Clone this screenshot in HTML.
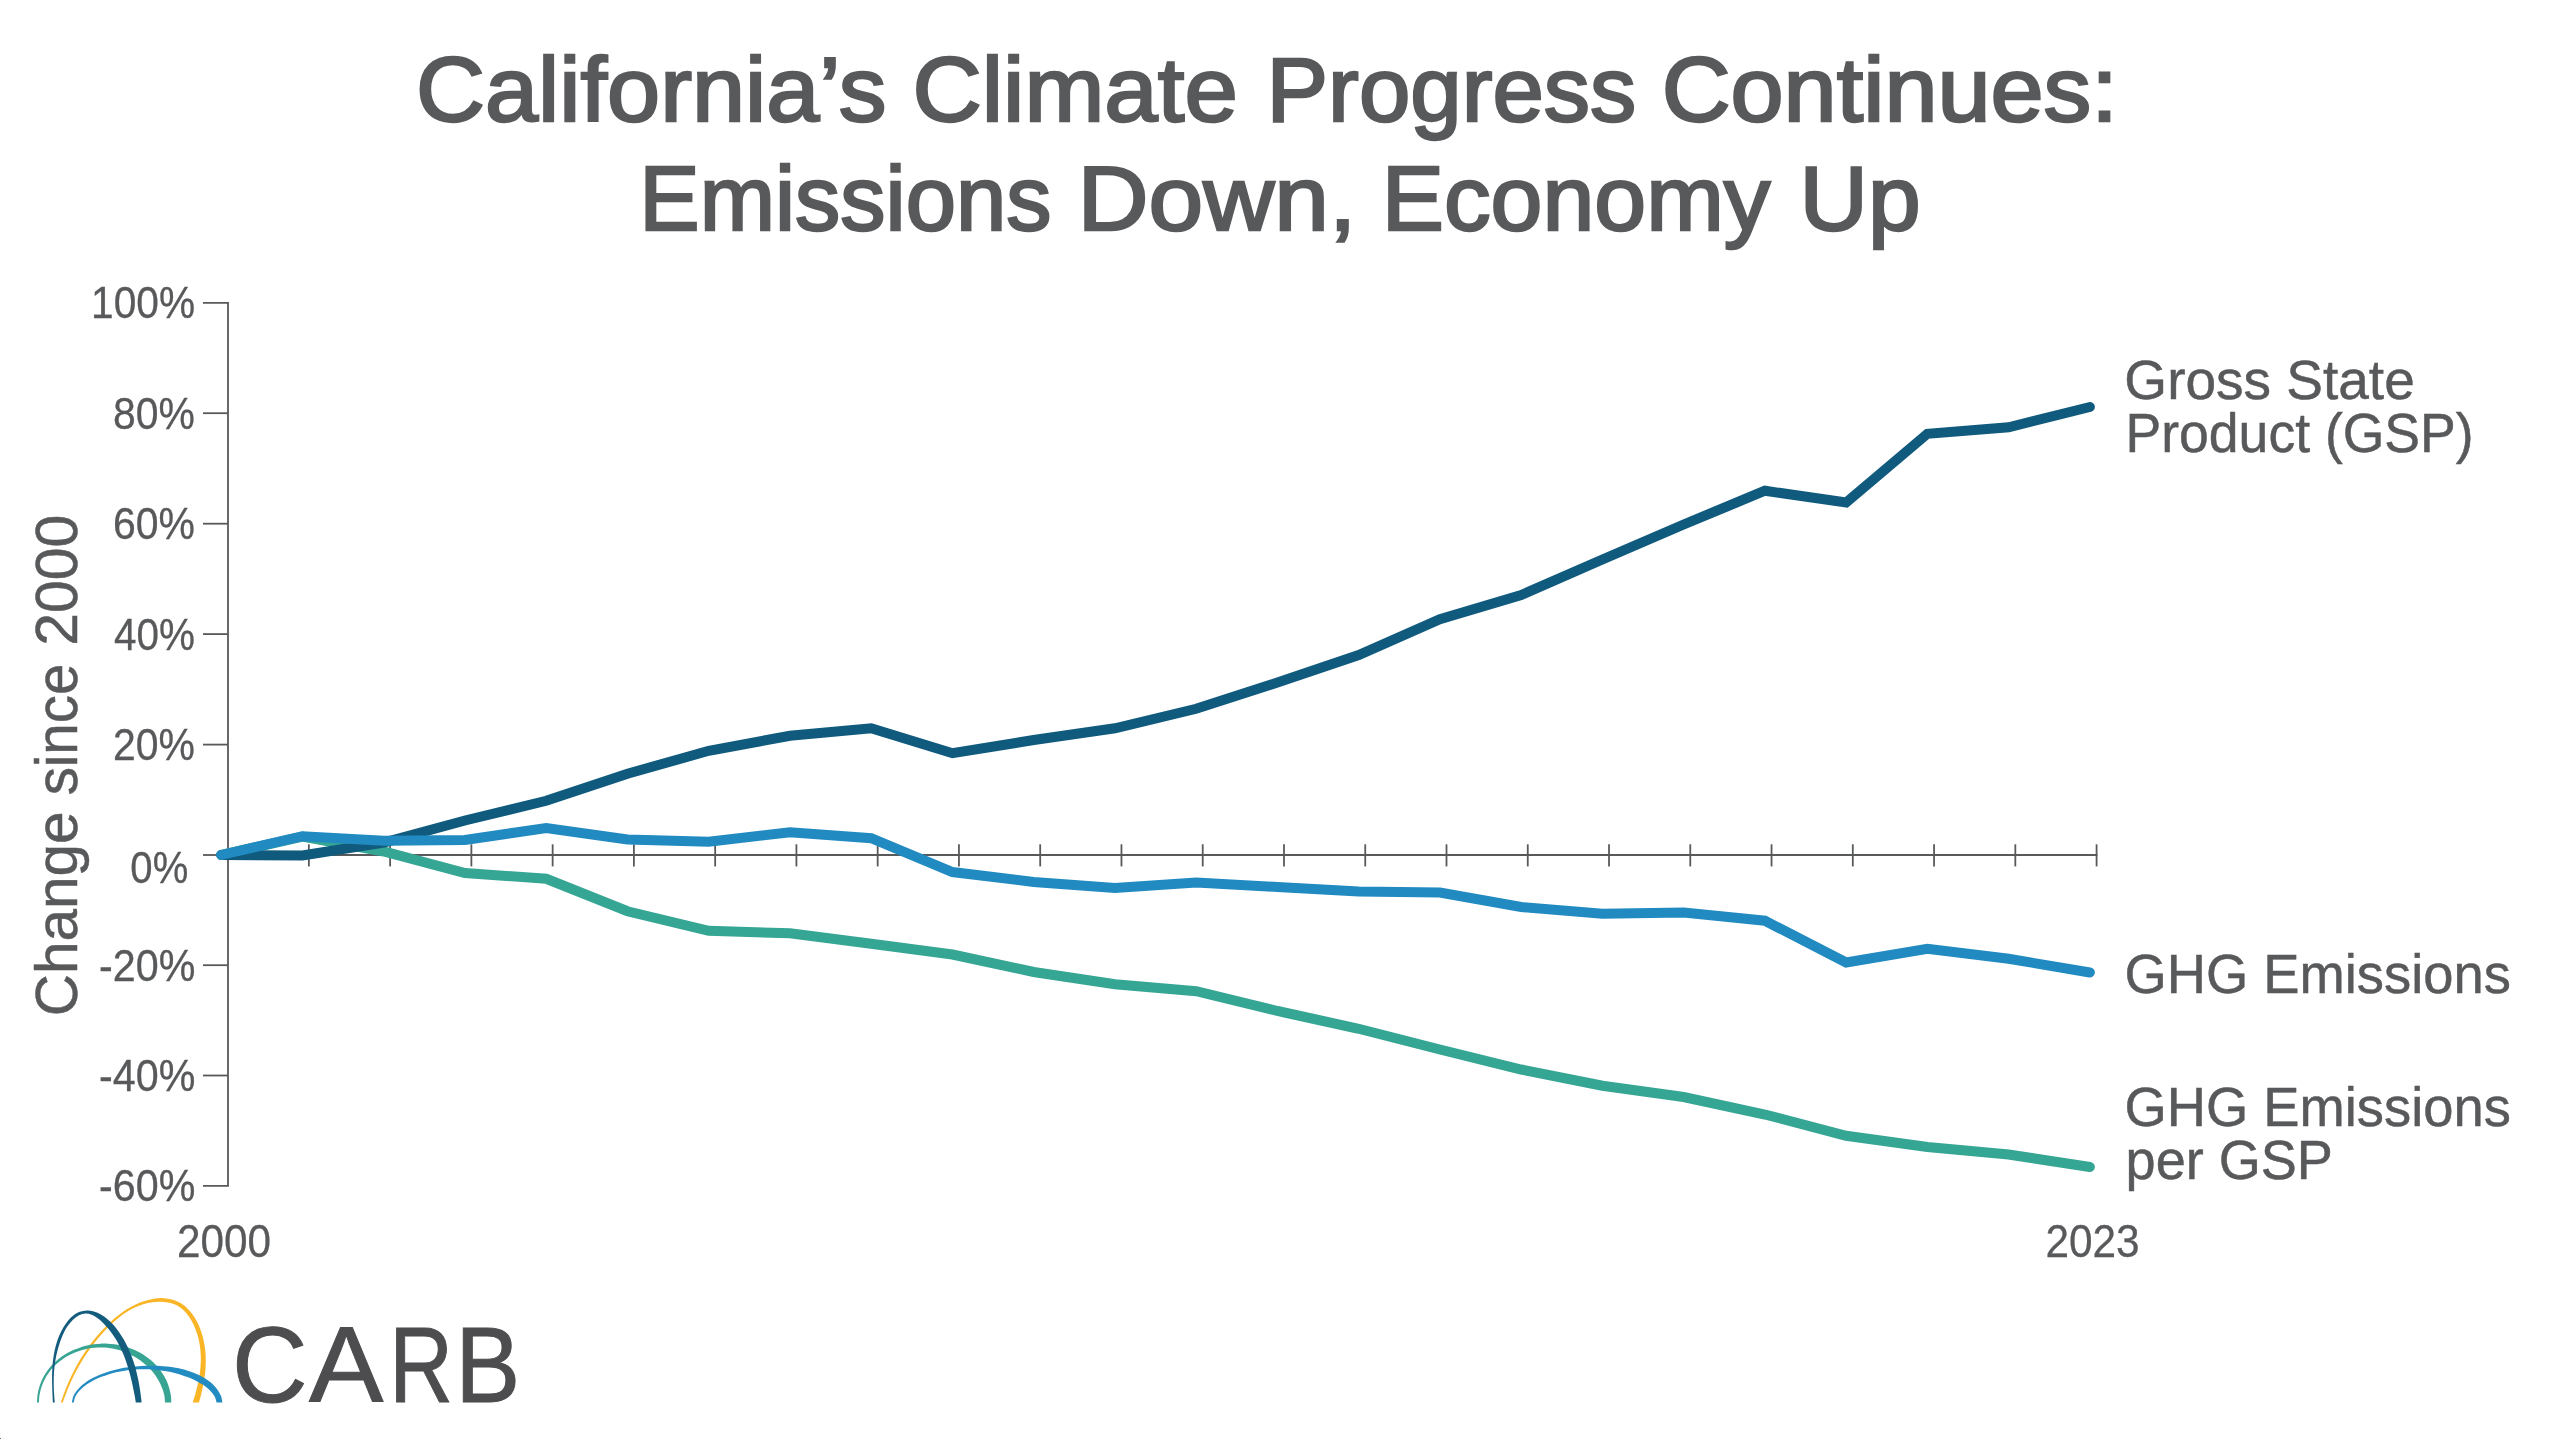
<!DOCTYPE html>
<html><head><meta charset="utf-8"><title>California Climate Progress</title>
<style>
html,body{margin:0;padding:0;background:#ffffff;}
body{width:2560px;height:1439px;overflow:hidden;}
svg{display:block;will-change:transform;}
text{font-family:"Liberation Sans",sans-serif;}
</style></head><body>
<svg width="2560" height="1439" viewBox="0 0 2560 1439">
<rect width="2560" height="1439" fill="#ffffff"/>
<path d="M203,302.9 H228.0 V1185.8 H203" fill="none" stroke="#58595b" stroke-width="1.8"/>
<line x1="203" y1="413.2" x2="228.0" y2="413.2" stroke="#58595b" stroke-width="1.8"/>
<line x1="203" y1="523.7" x2="228.0" y2="523.7" stroke="#58595b" stroke-width="1.8"/>
<line x1="203" y1="634.1" x2="228.0" y2="634.1" stroke="#58595b" stroke-width="1.8"/>
<line x1="203" y1="744.6" x2="228.0" y2="744.6" stroke="#58595b" stroke-width="1.8"/>
<line x1="203" y1="855.0" x2="228.0" y2="855.0" stroke="#58595b" stroke-width="1.8"/>
<line x1="203" y1="965.2" x2="228.0" y2="965.2" stroke="#58595b" stroke-width="1.8"/>
<line x1="203" y1="1075.5" x2="228.0" y2="1075.5" stroke="#58595b" stroke-width="1.8"/>
<line x1="228.0" y1="855.0" x2="2097.4" y2="855.0" stroke="#58595b" stroke-width="1.8"/>
<line x1="308.86" y1="844.30" x2="308.86" y2="866.40" stroke="#58595b" stroke-width="1.8"/>
<line x1="390.12" y1="844.30" x2="390.12" y2="866.40" stroke="#58595b" stroke-width="1.8"/>
<line x1="471.38" y1="844.30" x2="471.38" y2="866.40" stroke="#58595b" stroke-width="1.8"/>
<line x1="552.64" y1="844.30" x2="552.64" y2="866.40" stroke="#58595b" stroke-width="1.8"/>
<line x1="633.90" y1="844.30" x2="633.90" y2="866.40" stroke="#58595b" stroke-width="1.8"/>
<line x1="715.16" y1="844.30" x2="715.16" y2="866.40" stroke="#58595b" stroke-width="1.8"/>
<line x1="796.42" y1="844.30" x2="796.42" y2="866.40" stroke="#58595b" stroke-width="1.8"/>
<line x1="877.68" y1="844.30" x2="877.68" y2="866.40" stroke="#58595b" stroke-width="1.8"/>
<line x1="958.94" y1="844.30" x2="958.94" y2="866.40" stroke="#58595b" stroke-width="1.8"/>
<line x1="1040.20" y1="844.30" x2="1040.20" y2="866.40" stroke="#58595b" stroke-width="1.8"/>
<line x1="1121.46" y1="844.30" x2="1121.46" y2="866.40" stroke="#58595b" stroke-width="1.8"/>
<line x1="1202.72" y1="844.30" x2="1202.72" y2="866.40" stroke="#58595b" stroke-width="1.8"/>
<line x1="1283.98" y1="844.30" x2="1283.98" y2="866.40" stroke="#58595b" stroke-width="1.8"/>
<line x1="1365.24" y1="844.30" x2="1365.24" y2="866.40" stroke="#58595b" stroke-width="1.8"/>
<line x1="1446.50" y1="844.30" x2="1446.50" y2="866.40" stroke="#58595b" stroke-width="1.8"/>
<line x1="1527.76" y1="844.30" x2="1527.76" y2="866.40" stroke="#58595b" stroke-width="1.8"/>
<line x1="1609.02" y1="844.30" x2="1609.02" y2="866.40" stroke="#58595b" stroke-width="1.8"/>
<line x1="1690.28" y1="844.30" x2="1690.28" y2="866.40" stroke="#58595b" stroke-width="1.8"/>
<line x1="1771.54" y1="844.30" x2="1771.54" y2="866.40" stroke="#58595b" stroke-width="1.8"/>
<line x1="1852.80" y1="844.30" x2="1852.80" y2="866.40" stroke="#58595b" stroke-width="1.8"/>
<line x1="1934.06" y1="844.30" x2="1934.06" y2="866.40" stroke="#58595b" stroke-width="1.8"/>
<line x1="2015.32" y1="844.30" x2="2015.32" y2="866.40" stroke="#58595b" stroke-width="1.8"/>
<line x1="2096.58" y1="844.30" x2="2096.58" y2="866.40" stroke="#58595b" stroke-width="1.8"/>
<polyline points="221.25,855.00 302.50,836.50 383.74,851.50 464.99,873.00 546.23,878.75 627.48,911.25 708.72,930.75 789.97,933.25 871.21,943.75 952.46,954.50 1033.70,972.00 1114.95,984.25 1196.19,991.25 1277.43,1011.00 1358.68,1028.75 1439.93,1049.50 1521.17,1069.50 1602.41,1085.75 1683.66,1097.00 1764.91,1114.50 1846.15,1135.75 1927.39,1147.00 2008.64,1154.50 2089.89,1167.00" fill="none" stroke="#35a594" stroke-width="10" stroke-linecap="round" stroke-linejoin="miter" stroke-miterlimit="10"/>
<polyline points="221.25,855.00 302.50,855.50 383.74,842.50 464.99,820.50 546.23,800.75 627.48,773.75 708.72,750.75 789.97,735.75 871.21,728.25 952.46,753.25 1033.70,740.00 1114.95,728.25 1196.19,708.75 1277.43,682.50 1358.68,655.00 1439.93,619.25 1521.17,595.00 1602.41,559.50 1683.66,524.50 1764.91,490.75 1846.15,502.50 1927.39,433.75 2008.64,427.25 2089.89,407.00" fill="none" stroke="#105a7e" stroke-width="10" stroke-linecap="round" stroke-linejoin="miter" stroke-miterlimit="10"/>
<polyline points="221.25,855.00 302.50,836.25 383.74,840.75 464.99,840.00 546.23,828.00 627.48,839.50 708.72,841.75 789.97,832.25 871.21,838.25 952.46,872.00 1033.70,882.00 1114.95,888.00 1196.19,882.50 1277.43,887.00 1358.68,891.50 1439.93,892.50 1521.17,907.00 1602.41,913.75 1683.66,912.50 1764.91,920.75 1846.15,962.50 1927.39,948.75 2008.64,958.75 2089.89,972.50" fill="none" stroke="#208ac1" stroke-width="10" stroke-linecap="round" stroke-linejoin="miter" stroke-miterlimit="10"/>
<text x="416.06" y="121.05" font-size="90" fill="#58595b" stroke="#58595b" stroke-width="2.4" textLength="470.53" lengthAdjust="spacingAndGlyphs">California’s</text>
<text x="912.43" y="121.05" font-size="90" fill="#58595b" stroke="#58595b" stroke-width="2.4" textLength="325.40" lengthAdjust="spacingAndGlyphs">Climate</text>
<text x="1266.50" y="121.05" font-size="90" fill="#58595b" stroke="#58595b" stroke-width="2.4" textLength="369.69" lengthAdjust="spacingAndGlyphs">Progress</text>
<text x="1661.67" y="121.05" font-size="90" fill="#58595b" stroke="#58595b" stroke-width="2.4" textLength="456.13" lengthAdjust="spacingAndGlyphs">Continues:</text>
<text x="639.36" y="229.80" font-size="90" fill="#58595b" stroke="#58595b" stroke-width="2.4" textLength="412.14" lengthAdjust="spacingAndGlyphs">Emissions</text>
<text x="1077.61" y="229.80" font-size="90" fill="#58595b" stroke="#58595b" stroke-width="2.4" textLength="278.70" lengthAdjust="spacingAndGlyphs">Down,</text>
<text x="1381.83" y="229.80" font-size="90" fill="#58595b" stroke="#58595b" stroke-width="2.4" textLength="388.61" lengthAdjust="spacingAndGlyphs">Economy</text>
<text x="1799.59" y="229.80" font-size="90" fill="#58595b" stroke="#58595b" stroke-width="2.4" textLength="121.14" lengthAdjust="spacingAndGlyphs">Up</text>
<text x="2124.37" y="399.15" font-size="55.5" fill="#58595b" stroke="#58595b" stroke-width="0.5" textLength="290.37" lengthAdjust="spacingAndGlyphs">Gross State</text>
<text x="2125.56" y="452.25" font-size="55.5" fill="#58595b" stroke="#58595b" stroke-width="0.5" textLength="348.03" lengthAdjust="spacingAndGlyphs">Product (GSP)</text>
<text x="2124.40" y="992.65" font-size="55.5" fill="#58595b" stroke="#58595b" stroke-width="0.5" textLength="386.40" lengthAdjust="spacingAndGlyphs">GHG Emissions</text>
<text x="2124.40" y="1125.65" font-size="55.5" fill="#58595b" stroke="#58595b" stroke-width="0.5" textLength="386.40" lengthAdjust="spacingAndGlyphs">GHG Emissions</text>
<text x="2125.62" y="1179.05" font-size="55.5" fill="#58595b" stroke="#58595b" stroke-width="0.5" textLength="207.14" lengthAdjust="spacingAndGlyphs">per GSP</text>
<text x="91.12" y="318.35" font-size="43.6" fill="#58595b" stroke="#58595b" stroke-width="0.3" textLength="104.04" lengthAdjust="spacingAndGlyphs">100%</text>
<text x="113.10" y="428.65" font-size="43.6" fill="#58595b" stroke="#58595b" stroke-width="0.3" textLength="81.91" lengthAdjust="spacingAndGlyphs">80%</text>
<text x="113.05" y="539.15" font-size="43.6" fill="#58595b" stroke="#58595b" stroke-width="0.3" textLength="81.96" lengthAdjust="spacingAndGlyphs">60%</text>
<text x="114.06" y="649.55" font-size="43.6" fill="#58595b" stroke="#58595b" stroke-width="0.3" textLength="80.94" lengthAdjust="spacingAndGlyphs">40%</text>
<text x="113.05" y="760.05" font-size="43.6" fill="#58595b" stroke="#58595b" stroke-width="0.3" textLength="81.95" lengthAdjust="spacingAndGlyphs">20%</text>
<text x="130.37" y="883.15" font-size="43.6" fill="#58595b" stroke="#58595b" stroke-width="0.3" textLength="57.91" lengthAdjust="spacingAndGlyphs">0%</text>
<text x="99.01" y="980.65" font-size="43.6" fill="#58595b" stroke="#58595b" stroke-width="0.3" textLength="96.36" lengthAdjust="spacingAndGlyphs">-20%</text>
<text x="99.01" y="1090.95" font-size="43.6" fill="#58595b" stroke="#58595b" stroke-width="0.3" textLength="96.36" lengthAdjust="spacingAndGlyphs">-40%</text>
<text x="99.01" y="1201.25" font-size="43.6" fill="#58595b" stroke="#58595b" stroke-width="0.3" textLength="96.36" lengthAdjust="spacingAndGlyphs">-60%</text>
<text x="176.92" y="1256.55" font-size="46" fill="#58595b" stroke="#58595b" stroke-width="0.3" textLength="94.15" lengthAdjust="spacingAndGlyphs">2000</text>
<text x="2045.53" y="1256.55" font-size="46" fill="#58595b" stroke="#58595b" stroke-width="0.3" textLength="94.11" lengthAdjust="spacingAndGlyphs">2023</text>
<text transform="translate(76.7,1013.1) rotate(-90)" x="-3.19" y="0" font-size="59" fill="#58595b" stroke="#58595b" stroke-width="0.5" textLength="204.83" lengthAdjust="spacingAndGlyphs">Change</text>
<text transform="translate(76.7,1013.1) rotate(-90)" x="217.75" y="0" font-size="59" fill="#58595b" stroke="#58595b" stroke-width="0.5" textLength="131.64" lengthAdjust="spacingAndGlyphs">since</text>
<text transform="translate(76.7,1013.1) rotate(-90)" x="367.48" y="0" font-size="59" fill="#58595b" stroke="#58595b" stroke-width="0.5" textLength="130.83" lengthAdjust="spacingAndGlyphs">2000</text>
<text x="231.97" y="1402.00" font-size="107.2" fill="#4d4d4f" stroke="#4d4d4f" stroke-width="1.0" textLength="75.54" lengthAdjust="spacingAndGlyphs">C</text>
<text x="309.11" y="1402.00" font-size="107.2" fill="#4d4d4f" stroke="#4d4d4f" stroke-width="1.0" textLength="74.36" lengthAdjust="spacingAndGlyphs">A</text>
<text x="389.16" y="1402.00" font-size="107.2" fill="#4d4d4f" stroke="#4d4d4f" stroke-width="1.0" textLength="63.73" lengthAdjust="spacingAndGlyphs">R</text>
<text x="455.25" y="1402.00" font-size="107.2" fill="#4d4d4f" stroke="#4d4d4f" stroke-width="1.0" textLength="65.02" lengthAdjust="spacingAndGlyphs">B</text>
<rect x="0" y="1438" width="1" height="1" fill="#6a6a6a"/>
<path d="M60.87,1402.41 C61.40,1400.87 62.92,1396.22 64.07,1393.17 C65.21,1390.11 66.45,1387.06 67.72,1384.07 C68.99,1381.09 70.32,1378.15 71.71,1375.26 C73.10,1372.37 74.54,1369.53 76.06,1366.73 C77.58,1363.93 79.15,1361.17 80.81,1358.46 C82.46,1355.75 84.18,1353.08 85.98,1350.45 C87.78,1347.83 89.65,1345.24 91.61,1342.70 C93.56,1340.15 95.60,1337.64 97.72,1335.18 C99.84,1332.71 102.05,1330.26 104.35,1327.90 C106.64,1325.54 109.02,1323.21 111.48,1321.00 C113.94,1318.79 116.48,1316.65 119.09,1314.66 C121.71,1312.68 124.40,1310.78 127.16,1309.08 C129.92,1307.38 132.76,1305.80 135.66,1304.44 C138.57,1303.09 141.54,1301.89 144.58,1300.94 C147.61,1299.99 150.73,1299.23 153.87,1298.77 C157.02,1298.30 160.29,1298.01 163.45,1298.16 C166.60,1298.31 169.81,1298.75 172.80,1299.66 C175.78,1300.56 178.69,1301.94 181.34,1303.61 C183.99,1305.29 186.48,1307.39 188.69,1309.69 C190.91,1311.98 192.88,1314.63 194.62,1317.39 C196.37,1320.14 197.86,1323.17 199.17,1326.22 C200.47,1329.26 201.54,1332.49 202.44,1335.67 C203.34,1338.84 204.02,1342.07 204.55,1345.26 C205.08,1348.45 205.42,1351.64 205.61,1354.83 C205.81,1358.01 205.83,1361.19 205.72,1364.37 C205.62,1367.55 205.36,1370.72 205.00,1373.90 C204.64,1377.07 204.14,1380.24 203.55,1383.41 C202.96,1386.58 202.23,1389.76 201.48,1392.93 C200.73,1396.09 199.44,1400.83 199.04,1402.41 L192.71,1402.41 C193.17,1400.91 194.64,1396.47 195.48,1393.46 C196.33,1390.45 197.13,1387.41 197.80,1384.36 C198.48,1381.31 199.08,1378.24 199.54,1375.18 C200.00,1372.11 200.36,1369.02 200.57,1365.94 C200.78,1362.86 200.88,1359.78 200.80,1356.70 C200.72,1353.62 200.51,1350.54 200.11,1347.48 C199.71,1344.41 199.16,1341.35 198.39,1338.31 C197.63,1335.27 196.70,1332.22 195.54,1329.24 C194.38,1326.26 193.03,1323.21 191.43,1320.45 C189.84,1317.68 188.04,1314.94 185.97,1312.65 C183.91,1310.35 181.59,1308.26 179.05,1306.67 C176.50,1305.08 173.63,1303.92 170.71,1303.10 C167.79,1302.28 164.62,1301.88 161.54,1301.74 C158.47,1301.59 155.28,1301.80 152.24,1302.21 C149.20,1302.62 146.21,1303.32 143.30,1304.20 C140.40,1305.09 137.55,1306.23 134.79,1307.52 C132.02,1308.82 129.32,1310.34 126.69,1311.99 C124.07,1313.64 121.51,1315.47 119.03,1317.41 C116.55,1319.35 114.14,1321.45 111.80,1323.61 C109.47,1325.78 107.20,1328.08 105.02,1330.41 C102.83,1332.75 100.71,1335.18 98.68,1337.62 C96.64,1340.07 94.68,1342.57 92.79,1345.07 C90.90,1347.57 89.09,1350.08 87.35,1352.61 C85.61,1355.15 83.94,1357.70 82.34,1360.29 C80.74,1362.89 79.20,1365.50 77.73,1368.16 C76.26,1370.83 74.85,1373.52 73.49,1376.27 C72.14,1379.03 70.85,1381.82 69.61,1384.69 C68.37,1387.55 67.17,1390.50 66.04,1393.46 C64.91,1396.41 63.35,1400.91 62.81,1402.41 Z" fill="#f9b526"/>
<path d="M37.03,1402.41 C37.10,1401.27 37.13,1397.90 37.43,1395.59 C37.74,1393.27 38.24,1390.79 38.85,1388.51 C39.46,1386.23 40.21,1384.03 41.08,1381.91 C41.94,1379.79 42.95,1377.75 44.05,1375.79 C45.15,1373.83 46.38,1371.95 47.70,1370.16 C49.02,1368.37 50.46,1366.66 51.97,1365.04 C53.49,1363.42 55.10,1361.88 56.79,1360.43 C58.48,1358.99 60.26,1357.63 62.10,1356.36 C63.94,1355.09 65.86,1353.91 67.83,1352.83 C69.80,1351.74 71.84,1350.75 73.92,1349.85 C75.99,1348.95 78.13,1348.15 80.29,1347.44 C82.46,1346.73 84.67,1346.12 86.90,1345.60 C89.13,1345.09 91.40,1344.67 93.67,1344.36 C95.94,1344.04 98.24,1343.83 100.54,1343.71 C102.83,1343.60 105.14,1343.59 107.44,1343.68 C109.74,1343.78 112.04,1343.97 114.31,1344.28 C116.58,1344.58 118.85,1344.99 121.08,1345.51 C123.31,1346.02 125.53,1346.64 127.70,1347.36 C129.86,1348.08 132.00,1348.90 134.09,1349.81 C136.17,1350.73 138.21,1351.74 140.19,1352.85 C142.16,1353.95 144.09,1355.15 145.93,1356.44 C147.78,1357.73 149.57,1359.11 151.26,1360.58 C152.96,1362.04 154.59,1363.60 156.11,1365.23 C157.64,1366.87 159.08,1368.59 160.42,1370.39 C161.75,1372.19 162.99,1374.07 164.11,1376.03 C165.23,1377.98 166.25,1380.02 167.13,1382.12 C168.01,1384.22 168.78,1386.41 169.41,1388.65 C170.04,1390.90 170.57,1393.31 170.89,1395.60 C171.20,1397.90 171.24,1401.27 171.30,1402.41 L164.98,1402.41 C164.89,1401.35 164.80,1398.16 164.43,1396.07 C164.06,1393.98 163.43,1391.88 162.76,1389.87 C162.08,1387.85 161.28,1385.89 160.38,1383.99 C159.49,1382.08 158.47,1380.23 157.37,1378.45 C156.27,1376.67 155.06,1374.94 153.78,1373.28 C152.49,1371.63 151.11,1370.03 149.65,1368.51 C148.20,1366.99 146.66,1365.54 145.05,1364.16 C143.45,1362.79 141.77,1361.48 140.04,1360.26 C138.31,1359.03 136.51,1357.89 134.66,1356.82 C132.82,1355.76 130.92,1354.78 128.98,1353.89 C127.04,1353.00 125.06,1352.19 123.05,1351.47 C121.04,1350.76 118.98,1350.13 116.92,1349.61 C114.85,1349.08 112.75,1348.64 110.65,1348.31 C108.55,1347.98 106.42,1347.74 104.30,1347.62 C102.17,1347.49 100.04,1347.46 97.92,1347.54 C95.79,1347.62 93.67,1347.80 91.56,1348.08 C89.46,1348.36 87.37,1348.74 85.30,1349.22 C83.24,1349.70 81.19,1350.28 79.19,1350.94 C77.19,1351.61 75.21,1352.37 73.29,1353.23 C71.36,1354.08 69.48,1355.02 67.65,1356.05 C65.83,1357.08 64.05,1358.20 62.34,1359.41 C60.64,1360.61 58.99,1361.90 57.42,1363.27 C55.86,1364.64 54.36,1366.09 52.95,1367.62 C51.54,1369.15 50.21,1370.76 48.98,1372.44 C47.76,1374.12 46.61,1375.88 45.58,1377.71 C44.55,1379.54 43.62,1381.45 42.81,1383.42 C42.00,1385.39 41.29,1387.44 40.72,1389.55 C40.15,1391.65 39.66,1393.92 39.37,1396.07 C39.08,1398.21 39.04,1401.35 38.97,1402.41 Z" fill="#38a594"/>
<path d="M71.86,1402.41 C72.11,1401.38 72.57,1398.12 73.35,1396.22 C74.13,1394.33 75.34,1392.63 76.55,1391.02 C77.75,1389.40 79.12,1387.92 80.57,1386.52 C82.03,1385.13 83.62,1383.86 85.27,1382.66 C86.91,1381.46 88.67,1380.37 90.46,1379.35 C92.25,1378.32 94.12,1377.38 96.00,1376.50 C97.87,1375.62 99.79,1374.81 101.72,1374.05 C103.65,1373.29 105.61,1372.59 107.58,1371.95 C109.55,1371.31 111.54,1370.73 113.55,1370.19 C115.56,1369.66 117.58,1369.18 119.62,1368.75 C121.65,1368.33 123.70,1367.95 125.76,1367.62 C127.82,1367.28 129.89,1367.00 131.97,1366.76 C134.05,1366.52 136.14,1366.32 138.23,1366.16 C140.32,1366.01 142.41,1365.89 144.51,1365.81 C146.60,1365.73 148.70,1365.69 150.80,1365.69 C152.90,1365.69 155.00,1365.72 157.09,1365.80 C159.18,1365.88 161.27,1366.00 163.35,1366.17 C165.43,1366.35 167.50,1366.56 169.57,1366.84 C171.63,1367.11 173.68,1367.43 175.72,1367.81 C177.76,1368.19 179.79,1368.63 181.80,1369.12 C183.81,1369.62 185.81,1370.18 187.78,1370.80 C189.75,1371.43 191.71,1372.11 193.65,1372.87 C195.58,1373.63 197.50,1374.45 199.37,1375.35 C201.23,1376.26 203.08,1377.23 204.84,1378.30 C206.59,1379.38 208.31,1380.53 209.90,1381.79 C211.49,1383.05 213.01,1384.40 214.39,1385.88 C215.77,1387.35 217.05,1388.92 218.16,1390.63 C219.26,1392.33 220.33,1394.14 221.04,1396.10 C221.74,1398.07 222.16,1401.36 222.39,1402.41 L216.55,1402.41 C216.26,1401.47 215.65,1398.50 214.83,1396.80 C214.00,1395.10 212.79,1393.63 211.59,1392.20 C210.39,1390.77 209.04,1389.47 207.62,1388.24 C206.19,1387.01 204.65,1385.89 203.06,1384.83 C201.47,1383.77 199.79,1382.81 198.09,1381.89 C196.39,1380.98 194.62,1380.14 192.85,1379.34 C191.08,1378.54 189.29,1377.79 187.48,1377.09 C185.67,1376.40 183.85,1375.75 182.01,1375.15 C180.17,1374.55 178.31,1374.00 176.44,1373.49 C174.58,1372.99 172.69,1372.53 170.80,1372.12 C168.91,1371.71 167.01,1371.35 165.10,1371.03 C163.19,1370.71 161.28,1370.44 159.35,1370.21 C157.43,1369.98 155.50,1369.79 153.57,1369.65 C151.64,1369.51 149.70,1369.41 147.77,1369.35 C145.83,1369.30 143.89,1369.28 141.95,1369.31 C140.02,1369.34 138.08,1369.41 136.15,1369.52 C134.22,1369.64 132.29,1369.80 130.36,1370.00 C128.44,1370.20 126.52,1370.45 124.61,1370.75 C122.70,1371.05 120.80,1371.39 118.90,1371.78 C117.01,1372.17 115.13,1372.61 113.25,1373.09 C111.38,1373.58 109.52,1374.12 107.68,1374.71 C105.83,1375.29 104.00,1375.93 102.18,1376.62 C100.37,1377.31 98.56,1378.04 96.78,1378.84 C95.01,1379.64 93.24,1380.48 91.55,1381.40 C89.85,1382.33 88.18,1383.31 86.61,1384.39 C85.05,1385.47 83.53,1386.62 82.15,1387.88 C80.76,1389.14 79.46,1390.49 78.31,1391.96 C77.16,1393.43 76.02,1394.98 75.25,1396.72 C74.49,1398.46 73.97,1401.46 73.71,1402.41 Z" fill="#218bc2"/>
<path d="M52.89,1402.41 C52.82,1401.13 52.60,1397.30 52.48,1394.74 C52.37,1392.18 52.26,1389.61 52.19,1387.05 C52.11,1384.50 52.05,1381.94 52.05,1379.39 C52.04,1376.85 52.06,1374.30 52.16,1371.77 C52.25,1369.24 52.39,1366.71 52.61,1364.19 C52.83,1361.68 53.12,1359.17 53.50,1356.68 C53.89,1354.18 54.35,1351.70 54.92,1349.23 C55.50,1346.77 56.17,1344.31 56.97,1341.87 C57.77,1339.43 58.68,1337.00 59.74,1334.61 C60.79,1332.21 61.97,1329.77 63.31,1327.49 C64.66,1325.22 66.14,1322.94 67.80,1320.95 C69.45,1318.96 71.28,1317.06 73.27,1315.55 C75.25,1314.03 77.46,1312.72 79.71,1311.86 C81.95,1311.01 84.37,1310.49 86.74,1310.43 C89.11,1310.37 91.58,1310.82 93.94,1311.52 C96.30,1312.21 98.67,1313.34 100.89,1314.59 C103.10,1315.83 105.22,1317.36 107.21,1318.99 C109.20,1320.62 111.08,1322.46 112.85,1324.37 C114.62,1326.28 116.28,1328.36 117.84,1330.47 C119.40,1332.57 120.86,1334.80 122.22,1337.02 C123.59,1339.24 124.85,1341.51 126.04,1343.78 C127.22,1346.06 128.31,1348.36 129.33,1350.68 C130.35,1353.00 131.28,1355.35 132.15,1357.71 C133.01,1360.07 133.80,1362.46 134.53,1364.87 C135.26,1367.27 135.92,1369.70 136.53,1372.15 C137.15,1374.60 137.69,1377.06 138.20,1379.55 C138.70,1382.04 139.15,1384.55 139.57,1387.08 C139.99,1389.60 140.35,1392.16 140.70,1394.72 C141.04,1397.27 141.47,1401.12 141.63,1402.41 L135.79,1402.41 C135.59,1401.22 135.03,1397.66 134.59,1395.29 C134.16,1392.92 133.67,1390.55 133.17,1388.19 C132.68,1385.83 132.18,1383.47 131.63,1381.12 C131.09,1378.78 130.52,1376.44 129.91,1374.12 C129.30,1371.80 128.66,1369.48 127.96,1367.19 C127.26,1364.91 126.53,1362.63 125.73,1360.38 C124.92,1358.13 124.07,1355.90 123.15,1353.70 C122.23,1351.50 121.25,1349.32 120.18,1347.17 C119.12,1345.03 117.99,1342.91 116.77,1340.83 C115.54,1338.74 114.25,1336.69 112.85,1334.69 C111.45,1332.68 109.97,1330.70 108.38,1328.78 C106.79,1326.85 105.09,1324.90 103.31,1323.15 C101.53,1321.39 99.64,1319.64 97.70,1318.25 C95.76,1316.85 93.74,1315.58 91.70,1314.80 C89.65,1314.01 87.54,1313.47 85.44,1313.54 C83.34,1313.61 81.16,1314.17 79.08,1315.20 C77.00,1316.23 74.85,1317.97 72.97,1319.72 C71.10,1321.48 69.31,1323.69 67.84,1325.74 C66.37,1327.79 65.25,1329.90 64.17,1332.02 C63.09,1334.15 62.22,1336.30 61.36,1338.50 C60.50,1340.70 59.72,1342.95 59.00,1345.22 C58.29,1347.50 57.64,1349.82 57.07,1352.15 C56.51,1354.48 56.02,1356.84 55.60,1359.21 C55.18,1361.57 54.84,1363.96 54.57,1366.35 C54.30,1368.74 54.10,1371.15 53.95,1373.56 C53.81,1375.96 53.74,1378.38 53.71,1380.79 C53.69,1383.20 53.73,1385.62 53.81,1388.02 C53.89,1390.43 54.03,1392.84 54.20,1395.23 C54.37,1397.63 54.73,1401.21 54.83,1402.41 Z" fill="#145c7e"/>
</svg>
</body></html>
